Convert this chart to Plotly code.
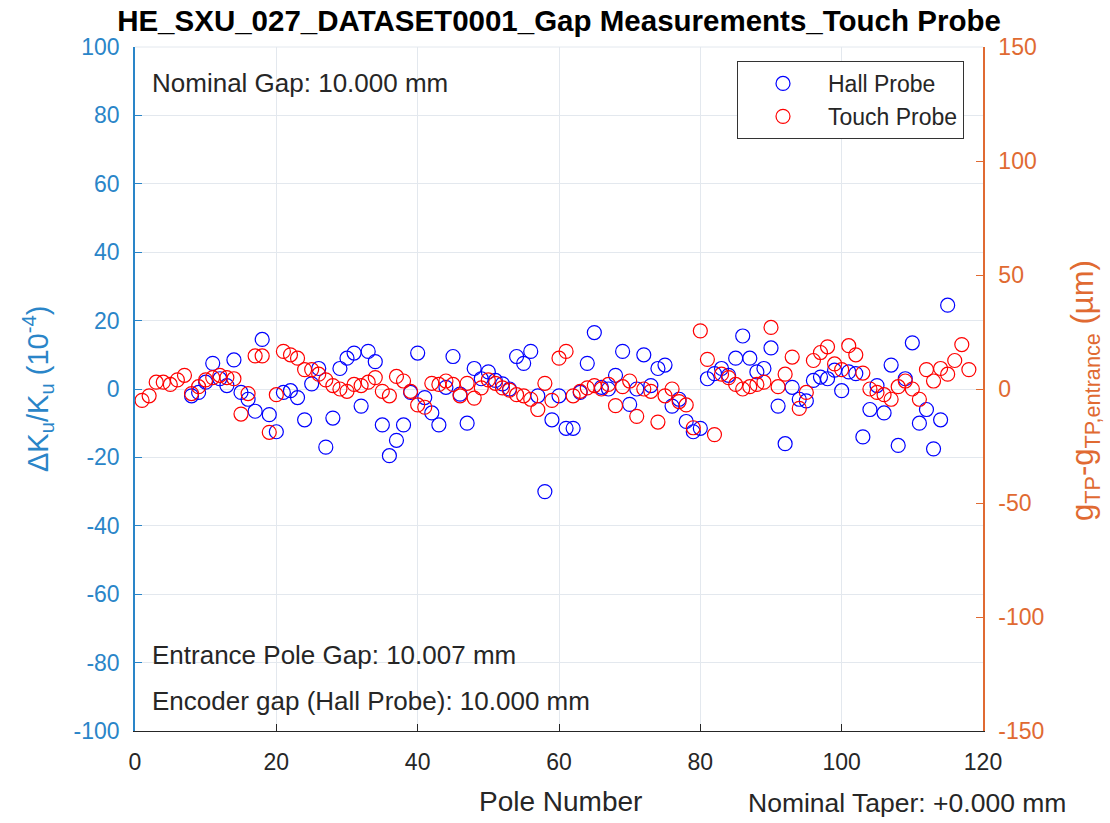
import plotly.graph_objects as go

# Hall probe: relative change of the undulator parameter, in units of 1e-4
hall_poles = list(range(8, 116))
hall_dk = [
    -2, -1, 2, 7.5, 3, 1, 8.5, -1, -3, -6.5,            # 8-17
    14.5, -7.5, -12.5, -1, -0.5, -2.5, -9, 1.5, 6, -17,  # 18-27
    -8.5, 6, 9, 10.5, -5, 11, 8, -10.5, -19.5, -15,     # 28-37
    -10.5, -1, 10.5, -2.5, -7, -10.5, 0.5, 9.5, -1.5, -10,  # 38-47
    6, 3, 5, 2.5, 1.5, 0, 9.5, 7.5, 11, -2,             # 48-57
    -30, -9, -2, -11.5, -11.5, -1, 7.5, 16.5, 0.5, 0,   # 58-67
    4, 11, -4.5, 0, 10, 1, 6, 7, -5, -3,                # 68-77
    -9.5, -12.5, -11.5, 3, 4.5, 6, 4, 9, 15.5, 9,       # 78-87
    5, 6, 12, -5, -16, 0.5, -3, -3.5, 2.5, 3.5,         # 88-97
    3, 5.5, -0.5, 5, 4.5, -14, -6, 1, -7, 7,            # 98-107
    -16.5, 3, 13.5, -10, -6, -17.5, -9, 24.5,           # 108-115
]

# Touch probe: gap relative to the entrance pole gap, in micrometres
touch_poles = list(range(1, 119))
touch_dg = [
    -5, -3, 3, 3, 2, 4, 6, -2, 1, 4,                    # 1-10
    5, 6, 5, 4.5, -11, -2, 14.5, 14.5, -19, -2.5,       # 11-20
    16.5, 15, 13.5, 8.5, 8.5, 6.5, 4, 1.5, 0, -1,       # 21-30
    2, 1.5, 3, 5, -1, -3, 5.5, 3.5, -1, -7,             # 31-40
    -8, 2.5, 2, 3.5, 2, -3, 2.5, -4, 0.5, 4,            # 41-50
    2.5, 0.5, -0.5, -2.5, -3, -4.5, -9, 2.5, -5, 13.5,  # 51-60
    16.5, -3, -1, 0.5, 1.5, 0, 2, -7.3, 1, 3.5,         # 61-70
    -12, 0, -1, -14.5, -3, 0, -5.5, -7, -17, 25.5,      # 71-80
    13, -20, 6.5, 5, 2, 0, 1, 2, 3, 27,                 # 81-90
    1, 6.5, 14, -8.5, -1.5, 12.5, 16, 18.5, 11, 8.5,    # 91-100
    19, 15, 7, 0, -1.5, -2.5, -4.5, 1, 3.5, 0,          # 101-110
    -4.5, 8.5, 3.5, 9, 6.5, 12.5, 19.5, 8.5,            # 111-118
]

x_ticks = [0, 20, 40, 60, 80, 100, 120]
left_ticks = [-100, -80, -60, -40, -20, 0, 20, 40, 60, 80, 100]
right_ticks = [-150, -100, -50, 0, 50, 100, 150]
# tick labels written with a plain hyphen as the minus sign
left_tick_labels = ["-100", "-80", "-60", "-40", "-20", "0", "20", "40", "60", "80", "100"]
right_tick_labels = ["-150", "-100", "-50", "0", "50", "100", "150"]

LEFT_COLOR = "#2a85c8"
RIGHT_COLOR = "#e06a32"
TEXT_COLOR = "#262626"
GRID_COLOR = "#e3e8ee"
FONT = "Liberation Sans, Arial, Helvetica, sans-serif"

# axes box in pixels: left 135, right 983, top 47, bottom 731
L, R, T, B = 135, 983, 47, 731
W, H = R - L, B - T


def px(x):
    return (x - L) / W


def py(y):
    return 1 - (y - T) / H


fig = go.Figure()
fig.add_trace(go.Scatter(
    x=hall_poles, y=hall_dk, mode="markers", name="Hall Probe",
    marker=dict(symbol="circle-open", size=14, color="#0000ff", line=dict(width=1.2)),
    yaxis="y",
))
fig.add_trace(go.Scatter(
    x=touch_poles, y=touch_dg, mode="markers", name="Touch Probe",
    marker=dict(symbol="circle-open", size=14, color="#ff0000", line=dict(width=1.2)),
    yaxis="y2",
))

fig.update_layout(
    width=1110, height=823,
    margin=dict(l=L, r=1110 - R, t=T, b=823 - B),
    paper_bgcolor="white", plot_bgcolor="white",
    font=dict(family=FONT, size=22, color=TEXT_COLOR),
    title=dict(
        text="<b>HE_SXU_027_DATASET0001_Gap Measurements_Touch Probe</b>",
        x=0.5, xref="paper", xanchor="center",
        y=1 - 21 / 823, yref="container", yanchor="middle",
        font=dict(family=FONT, size=29.5, color="#000000"),
    ),
    xaxis=dict(
        range=[0, 120], tickvals=x_ticks, ticks="inside", ticklen=7,
        tickcolor=TEXT_COLOR, showline=True, linecolor=TEXT_COLOR, linewidth=1,
        showgrid=True, gridcolor=GRID_COLOR, gridwidth=1, zeroline=False,
        tickfont=dict(size=23, color=TEXT_COLOR), ticklabelstandoff=10,
    ),
    yaxis=dict(
        range=[-100, 100], tickvals=left_ticks, ticktext=left_tick_labels,
        ticks="inside", ticklen=7,
        tickcolor=LEFT_COLOR, showline=True, linecolor=LEFT_COLOR, linewidth=1.5,
        showgrid=True, gridcolor=GRID_COLOR, gridwidth=1, zeroline=False,
        tickfont=dict(size=23, color=LEFT_COLOR), ticklabelstandoff=9,
    ),
    yaxis2=dict(
        range=[-150, 150], tickvals=right_ticks, ticktext=right_tick_labels,
        ticks="inside", ticklen=7,
        tickcolor=RIGHT_COLOR, showline=True, linecolor=RIGHT_COLOR, linewidth=1.5,
        showgrid=False, zeroline=False, overlaying="y", side="right",
        tickfont=dict(size=23, color=RIGHT_COLOR), ticklabelstandoff=9,
    ),
    legend=dict(
        x=px(964), y=py(61), xanchor="right", yanchor="top",
        bgcolor="white", bordercolor="#333333", borderwidth=1,
        font=dict(size=23, color=TEXT_COLOR), itemwidth=80,
        tracegroupgap=0,
    ),
    showlegend=True,
)

# top border of the axes box
fig.add_shape(type="line", xref="paper", yref="paper", x0=0, x1=1, y0=1, y1=1,
              line=dict(color=GRID_COLOR, width=1))

# axis titles
fig.add_annotation(text="Pole Number", x=px(560), y=py(801), xref="paper", yref="paper",
                   xanchor="center", yanchor="middle", showarrow=False,
                   font=dict(size=28, color=TEXT_COLOR))
fig.add_annotation(text="\u0394K<sub>u</sub>/K<sub>u</sub> (10<sup>-4</sup>)",
                   x=px(38), y=py(389), xref="paper", yref="paper", textangle=-90,
                   xanchor="center", yanchor="middle", showarrow=False,
                   font=dict(size=29, color=LEFT_COLOR))
fig.add_annotation(text="g<sub>TP</sub>-g<sub>TP,entrance</sub> (\u00b5m)",
                   x=px(1085), y=py(391), xref="paper", yref="paper", textangle=-90,
                   xanchor="center", yanchor="middle", showarrow=False,
                   font=dict(size=31, color=RIGHT_COLOR))

notes = [
    ("Nominal Gap: 10.000 mm", 83),
    ("Entrance Pole Gap: 10.007 mm", 655),
    ("Encoder gap (Hall Probe): 10.000 mm", 701),
]
for text, ty in notes:
    fig.add_annotation(text=text, x=px(150), y=py(ty), xref="paper", yref="paper",
                       xanchor="left", yanchor="middle", showarrow=False,
                       font=dict(size=26, color=TEXT_COLOR))

fig.add_annotation(text="Nominal Taper: +0.000 mm", x=px(746), y=py(803),
                   xref="paper", yref="paper", xanchor="left", yanchor="middle",
                   showarrow=False, font=dict(size=26.5, color=TEXT_COLOR))

fig.write_html("out.html")
